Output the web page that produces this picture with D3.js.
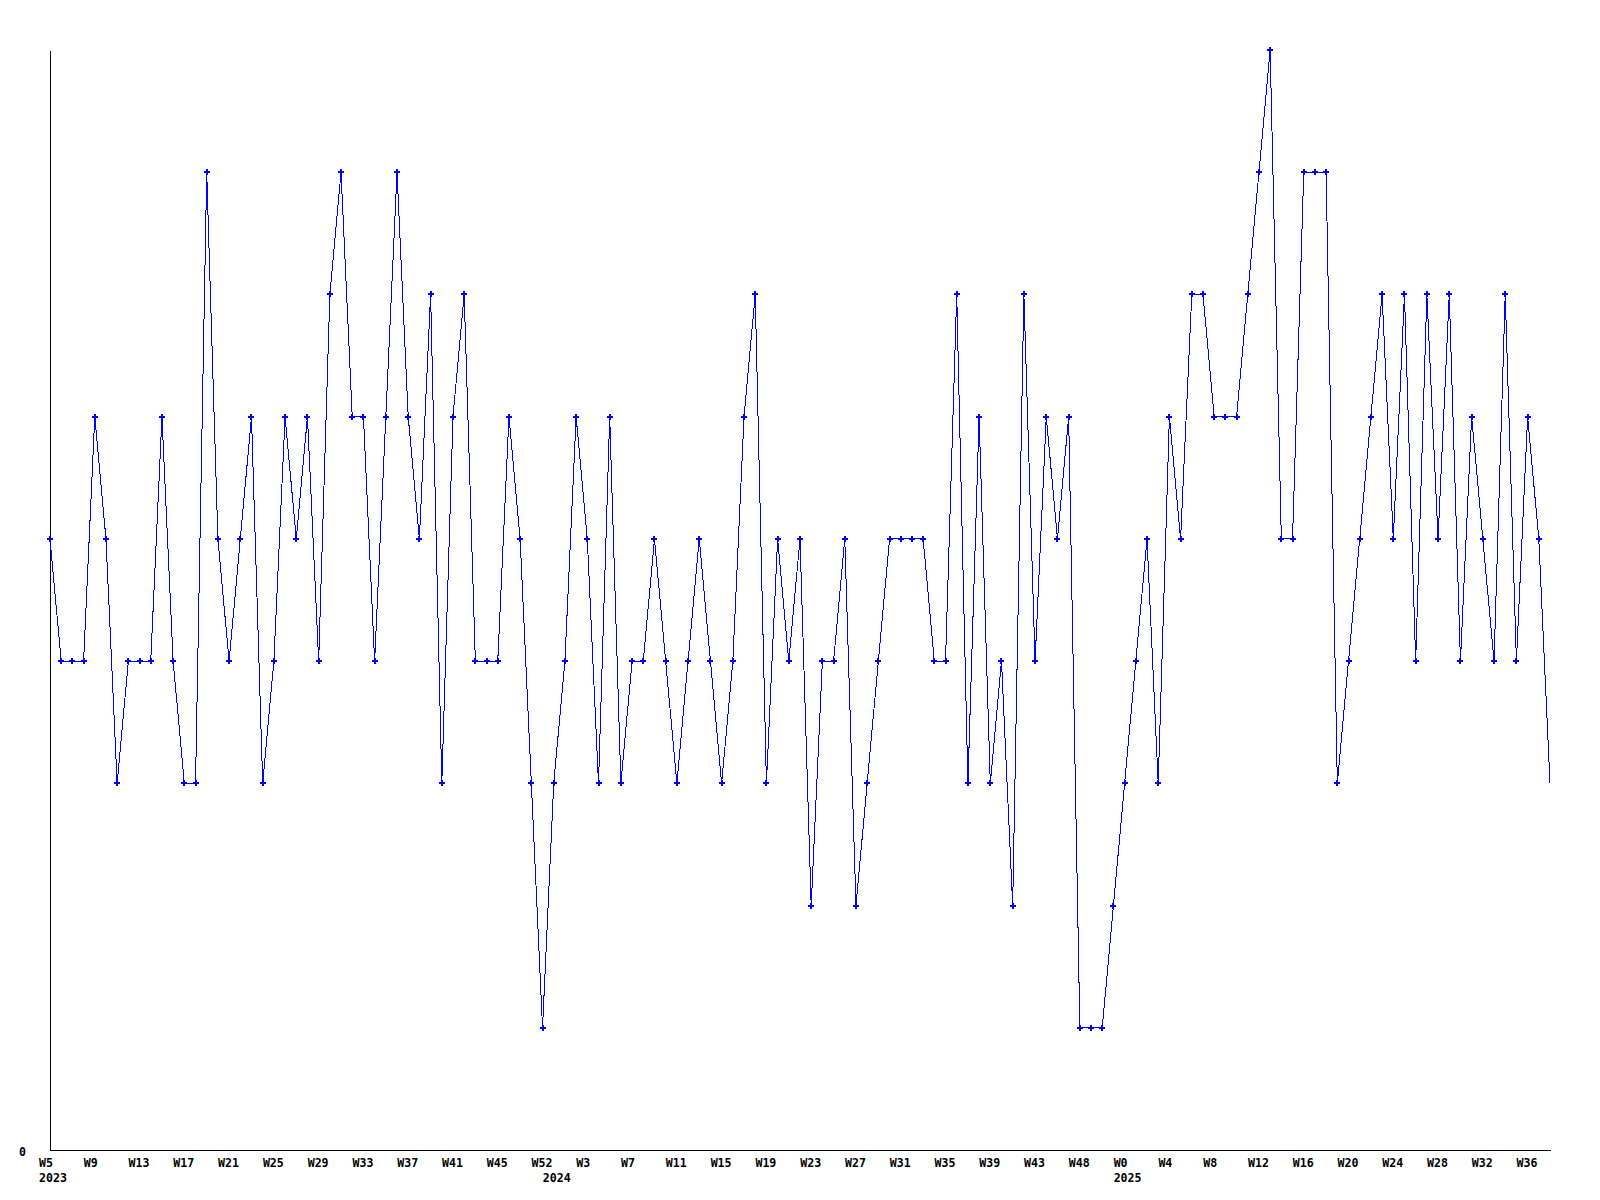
<!DOCTYPE html>
<html>
<head>
<meta charset="utf-8">
<script src="https://cdn.jsdelivr.net/npm/d3@7"></script>
<style>
  html, body { margin: 0; padding: 0; background: #ffffff; }
  svg { display: block; }
  .lbl { font-family: "DejaVu Sans Mono", "Liberation Mono", monospace; font-weight: bold; font-size: 11.6px; fill: #000; }
</style>
</head>
<body>
<svg id="chart" width="1600" height="1200"></svg>
<script>
// Weekly values, 2023 W5 .. 2025 W37 (weeks without data are skipped)
const values = [
  5,4,4,4,6,5,3,4,4,4,
  6,4,3,3,8,5,4,5,6,3,
  4,6,5,6,4,7,8,6,6,4,
  6,8,6,5,7,3,6,7,4,4,
  4,6,5,3,1,3,4,6,5,3,
  6,3,4,4,5,4,3,4,5,4,
  3,4,6,7,3,5,4,5,2,4,
  4,5,2,3,4,5,5,5,5,4,
  4,7,3,6,3,4,2,7,4,6,
  5,6,1,1,1,2,3,4,5,3,
  6,5,7,7,6,6,6,7,8,9,
  5,5,8,8,8,3,4,5,6,7,
  5,7,4,7,5,7,4,6,5,4,
  7,4,6,5,3
];

// Week labels shown on every 4th category
const weekLabels = [
  "W5","W9","W13","W17","W21","W25","W29","W33","W37","W41","W45","W52",
  "W3","W7","W11","W15","W19","W23","W27","W31","W35","W39","W43","W48",
  "W0","W4","W8","W12","W16","W20","W24","W28","W32","W36"
];
const labelEvery = 4;

// Year labels under the first category of each year
const years = ["2023", "2024", "2025"];
const yearStartIndex = [0, 45, 96];

const yTickValues = [0];
const yMax = 9;

(function () {
  // ---- layout ----
  const mLeft = 50, mRight = 1550, mTop = 50, mBottom = 1150;
  const svg = d3.select("#chart");
  svg.append("rect").attr("width", 1600).attr("height", 1200).attr("fill", "#fff");

  const idx = d3.range(values.length);
  const x = d3.scalePoint().domain(idx).range([mLeft, mRight]);
  const y = d3.scaleLinear().domain([0, yMax]).range([mBottom, mTop]);

  // y axis
  const yAxis = d3.axisLeft(y).tickValues(yTickValues).tickSize(0).tickPadding(24).tickFormat(d3.format("d"));
  const gy = svg.append("g").attr("transform", `translate(${mLeft},0)`).call(yAxis);
  gy.attr("font-family", null).attr("font-size", null);
  gy.select(".domain").attr("stroke", "#000").attr("stroke-width", 1).attr("shape-rendering", "crispEdges");
  gy.selectAll(".tick text").attr("class", "lbl").attr("dy", "0.45em");

  // x axis line
  const xAxis = d3.axisBottom(x).tickValues([]).tickSize(0).tickSizeOuter(0);
  const gx = svg.append("g").attr("transform", `translate(0,${mBottom})`).call(xAxis);
  gx.select(".domain").attr("stroke", "#000").attr("stroke-width", 1).attr("shape-rendering", "crispEdges");

  // x labels
  const labelIdx = weekLabels.map((_, k) => k * labelEvery);
  svg.append("g").selectAll("text").data(weekLabels).join("text")
    .attr("class", "lbl")
    .attr("x", (d, k) => x(labelIdx[k]) - 11)
    .attr("y", mBottom + 16.5)
    .text(d => d);

  svg.append("g").selectAll("text").data(years).join("text")
    .attr("class", "lbl")
    .attr("x", (d, k) => x(yearStartIndex[k]) - 11)
    .attr("y", mBottom + 31.5)
    .text(d => d);

  // line
  const line = d3.line().x((d, i) => x(i)).y(d => y(d));
  svg.append("path")
    .datum(values)
    .attr("d", line)
    .attr("fill", "none")
    .attr("stroke", "#0000ff")
    .attr("stroke-width", 1)
    .attr("shape-rendering", "crispEdges");

  // markers (last, in-progress week has none)
  const sym = d3.symbol().type(d3.symbolCross).size(20);
  svg.append("g").selectAll("path").data(values.slice(0, values.length - 1)).join("path")
    .attr("transform", (d, i) => `translate(${x(i)},${y(d)})`)
    .attr("d", sym)
    .attr("fill", "#0000ff")
    .attr("shape-rendering", "crispEdges");
})();
</script>
</body>
</html>
